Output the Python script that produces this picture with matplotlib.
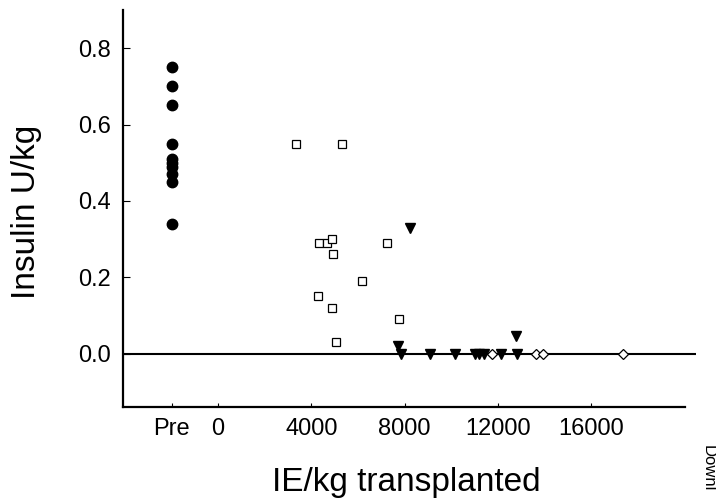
import matplotlib
matplotlib.use('Agg')
import matplotlib.pyplot as plt

plt.rcParams['font.family'] = ['Liberation Sans', 'DejaVu Sans']

# pre-transplant insulin doses (plotted at the "Pre" position)
pre_x = -2000
pre_y = [0.75, 0.70, 0.65, 0.55, 0.51, 0.50, 0.49, 0.47, 0.45, 0.34]

# open squares
sq_x = [3330, 5320, 4310, 4660, 4870, 4940, 7250, 6160, 4270, 4900, 7740, 5040]
sq_y = [0.55, 0.55, 0.29, 0.29, 0.30, 0.26, 0.29, 0.19, 0.15, 0.12, 0.09, 0.03]

# filled triangles
tri_x = [8230, 7700, 7850, 9110, 10150, 11030, 11210, 11400, 12150, 12780, 12810]
tri_y = [0.33, 0.02, 0.0, 0.0, 0.0, 0.0, 0.0, 0.0, 0.0, 0.047, 0.0]

# open diamonds
dia_x = [11770, 13620, 13940, 17360]
dia_y = [0.0, 0.0, 0.0, 0.0]

xticks = [pre_x, 0, 4000, 8000, 12000, 16000]
xticklabels = ['Pre', '0', '4000', '8000', '12000', '16000']
yticks = [0.0, 0.2, 0.4, 0.6, 0.8]

fig = plt.figure(figsize=(7.16, 5.0), dpi=100)
ax = fig.add_axes([0.172, 0.186, 0.8, 0.794])

ax.axhline(0, color='black', lw=1.5, zorder=1)

ax.plot([pre_x] * len(pre_y), pre_y, 'o', color='black', ms=7.5, zorder=3)
ax.plot(sq_x, sq_y, 's', mfc='white', mec='black', mew=0.9, ms=6, zorder=3)
ax.plot(tri_x, tri_y, 'v', color='black', ms=7, zorder=4)
ax.plot(dia_x, dia_y, 'D', mfc='white', mec='black', mew=0.9, ms=5, zorder=3)

ax.set_xlim(-4075, 20500)
ax.set_ylim(-0.14, 0.9)

ax.spines['top'].set_visible(False)
ax.spines['right'].set_visible(False)
ax.spines['left'].set_linewidth(1.6)
ax.spines['bottom'].set_linewidth(1.6)
ax.spines['bottom'].set_bounds(-4075, 20040)

ax.set_xticks(xticks)
ax.set_xticklabels(xticklabels)
ax.set_yticks(yticks)
ax.set_yticklabels(['%.1f' % v for v in yticks])
ax.tick_params(axis='x', direction='in', length=3, width=0.8, labelsize=17, pad=8)
ax.tick_params(axis='y', direction='in', length=5, width=0.8, labelsize=17, pad=9)

ax.set_ylabel('Insulin U/kg', fontsize=24)
ax.yaxis.set_label_coords(-0.141, 0.491)
ax.set_xlabel('IE/kg transplanted', fontsize=24)
ax.xaxis.set_label_coords(0.495, -0.15)

fig.text(0.989, 0.11, 'Downl', rotation=-90, fontsize=12, ha='center', va='top')

fig.savefig('out.png', dpi=100)
